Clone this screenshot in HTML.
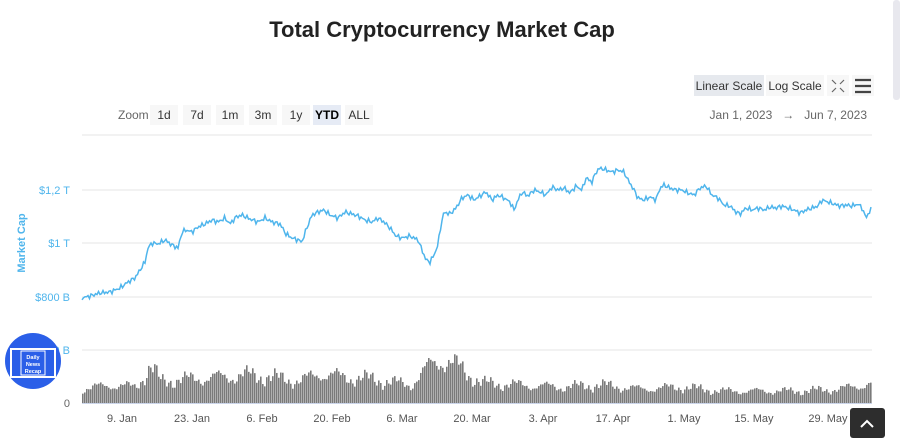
<!DOCTYPE html>
<html><head><meta charset="utf-8"><style>
body{margin:0;width:900px;height:443px;background:#fff;overflow:hidden;font-family:"Liberation Sans",sans-serif;position:relative}
</style></head><body>
<svg width="900" height="443" style="position:absolute;left:0;top:0" font-family="Liberation Sans, sans-serif">
<text x="442" y="37" text-anchor="middle" font-size="22" font-weight="bold" fill="#222">Total Cryptocurrency Market Cap</text>
<rect x="694" y="75" width="70" height="21" fill="#e6e9ee"/>
<text x="729" y="90" text-anchor="middle" font-size="12" fill="#333">Linear Scale</text>
<rect x="766" y="75" width="58" height="21" fill="#f7f7f7"/>
<text x="795" y="90" text-anchor="middle" font-size="12" fill="#333">Log Scale</text>
<rect x="827" y="75" width="22" height="21" fill="#f7f7f7"/>
<g stroke="#666" stroke-width="1.2"><path d="M832 80l4 4M844 80l-4 4M832 92l4-4M844 92l-4-4"/></g>
<rect x="852" y="75" width="22" height="21" fill="#f7f7f7"/>
<g stroke="#444" stroke-width="2.2"><path d="M855 80h16M855 86h16M855 92h16"/></g>
<text x="118" y="119" font-size="12" fill="#666">Zoom</text>
<g font-size="12" fill="#333" text-anchor="middle">
<rect x="150" y="105" width="28" height="20" fill="#f7f7f7"/><text x="164" y="119">1d</text>
<rect x="183" y="105" width="28" height="20" fill="#f7f7f7"/><text x="197" y="119">7d</text>
<rect x="216" y="105" width="28" height="20" fill="#f7f7f7"/><text x="230" y="119">1m</text>
<rect x="249" y="105" width="28" height="20" fill="#f7f7f7"/><text x="263" y="119">3m</text>
<rect x="282" y="105" width="28" height="20" fill="#f7f7f7"/><text x="296" y="119">1y</text>
<rect x="313" y="105" width="28" height="20" fill="#e6ebf5"/><text x="327" y="119" font-weight="bold" fill="#000">YTD</text>
<rect x="345" y="105" width="28" height="20" fill="#f7f7f7"/><text x="359" y="119">ALL</text>
</g>
<text x="867" y="119" text-anchor="end" font-size="12" fill="#666">Jan 1, 2023 &#160; → &#160; Jun 7, 2023</text>
<line x1="82" y1="135" x2="872" y2="135" stroke="#e6e6e6"/>
<g stroke="#e6e6e6"><line x1="82" y1="190" x2="872" y2="190"/><line x1="82" y1="243" x2="872" y2="243"/><line x1="82" y1="297" x2="872" y2="297"/><line x1="82" y1="350" x2="872" y2="350"/></g>
<g font-size="11" fill="#4fb5ec" text-anchor="end"><text x="70" y="194">$1,2 T</text><text x="70" y="247">$1 T</text><text x="70" y="301">$800 B</text><text x="70" y="354">$600 B</text></g>
<text x="70" y="407" text-anchor="end" font-size="11" fill="#666">0</text>
<text transform="translate(25,243) rotate(-90)" text-anchor="middle" font-size="11" fill="#4fb5ec" font-weight="bold">Market Cap</text>
<g id="vol" fill="#7a7a7a"></g>
<line x1="82" y1="403.5" x2="872" y2="403.5" stroke="#ccd6eb"/>
<polyline id="pl" fill="none" stroke="#4fb5ec" stroke-width="1.5" points=""/>
<g font-size="11" fill="#555" text-anchor="middle"><text x="122" y="422">9. Jan</text><text x="192" y="422">23. Jan</text><text x="262" y="422">6. Feb</text><text x="332" y="422">20. Feb</text><text x="402" y="422">6. Mar</text><text x="472" y="422">20. Mar</text><text x="543" y="422">3. Apr</text><text x="613" y="422">17. Apr</text><text x="684" y="422">1. May</text><text x="754" y="422">15. May</text><text x="828" y="422">29. May</text></g>
<circle cx="33" cy="361" r="28" fill="#2b5fe8"/>
<rect x="11" y="349" width="44" height="28" fill="none" stroke="#fff" stroke-width="2"/>
<rect x="21" y="351" width="24" height="24" fill="#2b5fe8" stroke="#fff"/>
<g font-size="5.5" font-weight="bold" fill="#fff" text-anchor="middle"><text x="33" y="359">Daily</text><text x="33" y="366">News</text><text x="33" y="373">Recap</text></g>
<rect x="850" y="408" width="35" height="30" rx="3" fill="#2d2d2d"/>
<path d="M861 427l6-6 6 6" fill="none" stroke="#fff" stroke-width="2"/>
<rect x="893" y="0" width="7" height="100" rx="3" fill="#e8e8ee"/>
</svg>
<script>
var P=[[82,298],[90,296],[100,293],[110,292],[120,288],[128,282],[135,278],[140,270],[145,262],[148,248],[152,243],[158,244],[165,240],[172,245],[178,248],[182,232],[186,230],[192,232],[198,227],[205,224],[212,220],[218,222],[225,218],[230,224],[236,217],[242,215],[250,219],[258,222],[265,218],[272,222],[280,224],[286,234],[292,238],[298,240],[302,242],[306,230],[312,215],[318,212],[324,210],[330,215],[338,218],[345,212],[352,214],[358,216],[365,220],[372,222],[378,218],[384,222],[390,228],[396,236],[402,238],[410,236],[418,240],[422,250],[426,260],[430,262],[434,255],[438,245],[440,230],[444,212],[450,214],[456,208],[462,198],[468,195],[474,200],[480,196],[486,192],[492,200],[498,195],[504,198],[510,202],[514,210],[518,200],[522,192],[528,196],[534,190],[540,192],[546,195],[552,187],[558,190],[564,188],[570,193],[576,186],[582,190],[586,178],[592,182],[596,172],[600,168],[606,170],[612,172],[618,170],[624,172],[628,180],[634,190],[638,198],[644,200],[650,197],[656,200],[660,188],[664,185],[670,188],[676,190],[682,190],[688,193],[694,195],[700,188],[706,186],[712,195],[718,198],[724,205],[730,206],[736,212],[740,214],[746,208],[752,210],[758,208],[764,210],[770,207],[776,208],[782,206],[788,208],[794,210],[800,213],[806,210],[812,208],[818,206],[822,200],[828,202],[834,204],[840,206],[846,205],[852,206],[858,204],[862,208],[866,218],[868,214],[872,208]];
function ip(x){for(var i=1;i<P.length;i++)if(x<=P[i][0]){var t=(x-P[i-1][0])/(P[i][0]-P[i-1][0]);return P[i-1][1]+t*(P[i][1]-P[i-1][1]);}return 208;}
var pts=[];for(var x=82;x<=872;x+=1.5){pts.push(x+','+(ip(x)+1.6*Math.sin(x*1.7)+1.1*Math.sin(x*3.1)).toFixed(1));}
document.getElementById('pl').setAttribute('points',pts.join(' '));
var g=document.getElementById('vol'),k=[[82,14],[110,18],[135,16],[150,36],[160,22],[190,24],[250,28],[300,22],[320,30],[340,26],[370,24],[410,18],[430,38],[440,44],[460,35],[480,20],[520,18],[560,16],[600,18],[640,14],[680,16],[720,12],[760,12],[800,12],[840,14],[872,20]];
function env(x){for(var i=1;i<k.length;i++)if(x<=k[i][0]){var t=(x-k[i-1][0])/(k[i][0]-k[i-1][0]);return k[i-1][1]+t*(k[i][1]-k[i-1][1]);}return 20;}
var s='';for(var x=82;x<872;x+=2){var h=env(x)*(1+0.22*Math.sin(x*0.21)+0.12*Math.sin(x*0.9)+0.08*Math.sin(x*2.3));s+='<rect x="'+x+'" y="'+(403-h)+'" width="1.6" height="'+h+'"/>';}
g.innerHTML=s;
</script>
</body></html>
